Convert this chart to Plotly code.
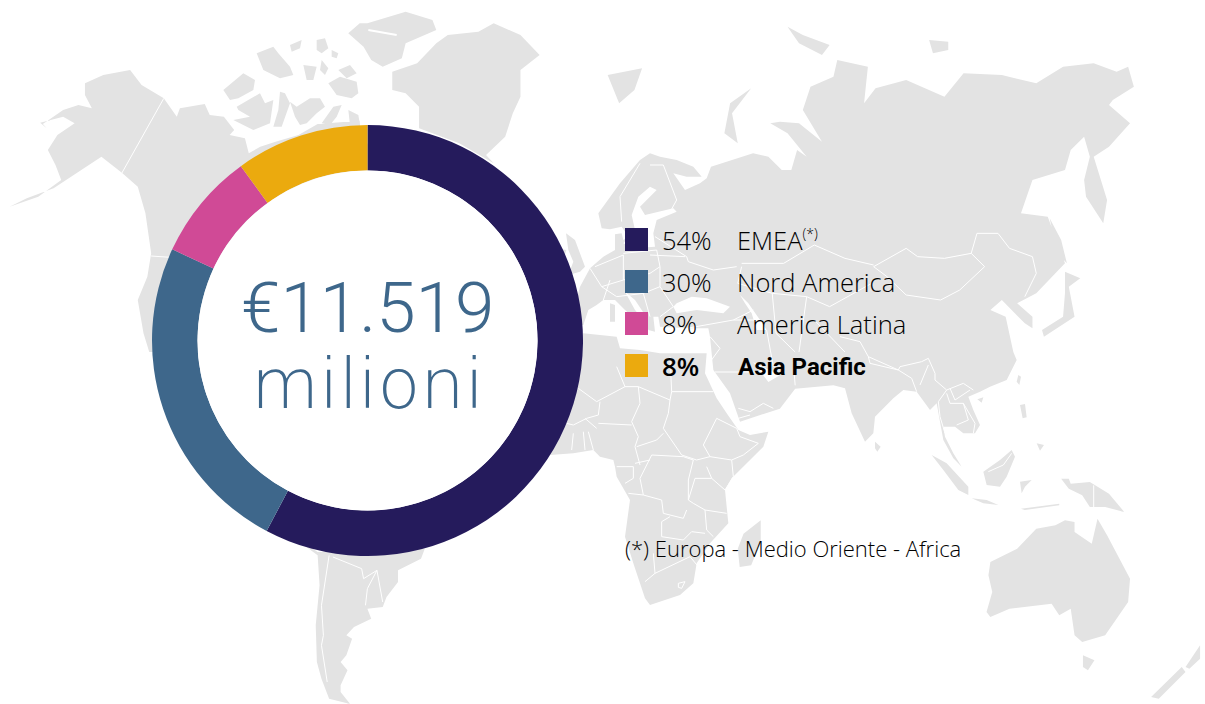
import plotly.graph_objects as go

# ---- data ----
regions = ["EMEA", "Nord America", "America Latina", "Asia Pacific"]
drawn_share = [57.75, 24.2, 8.05, 10.0]   # arc sizes as drawn in the picture
label_pct = ["54%", "30%", "8%", "8%"]
colors = ["#251B5C", "#3E678B", "#D04A96", "#EBAA0E"]
legend_y = [239.5, 281.5, 323.5, 365.5]
legend_labels = ['EMEA<sup><span style="font-size:14px">(*)</span></sup>', "Nord America", "America Latina", "Asia Pacific"]
legend_pct = ["54%", "30%", "8%", "8%"]

W, H = 1205, 704
GREY = "#E3E3E3"

# ---- background map outlines (panel coords) ----
def TL(p): return [(x / 2.613, y / 3) for x, y in p]
def TR(p): return [(600 + x / 2.613, y / 3) for x, y in p]
def BL(p): return [(x / 2.613, 352 + y / 3) for x, y in p]
def BR(p): return [(600 + x / 2.613, 352 + y / 3) for x, y in p]
def EU(p): return [(560 + x / 3, 140 + y / 3) for x, y in p]
def AF(p): return [(550 + x / 3, 350 + y / 3) for x, y in p]
def SE(p): return [(840 + x / 3, 330 + y / 3) for x, y in p]
def AR(p): return [(210 + x / 3, 10 + y / 3) for x, y in p]

north_america = TL([(105,368),(122,385),(112,372),(165,330),(205,315),(240,325),(222,285),(222,250),(270,225),(340,210),(370,255),(428,295),(462,350),(470,325),(535,312),(548,345),(585,350),(612,390),(600,405),(640,415),(650,460),(680,440),(720,425),(780,405),(830,372),(940,362),(942,400),(1000,500),(1000,800),(700,1056),(390,1056),(375,1000),(360,900),(385,830),(395,760),(380,640),(360,560),(320,520),(265,470),(200,520),(140,565),(70,595),(25,620),(100,590),(160,540),(145,495),(125,450),(150,405),(195,370),(165,350)])
greenland = TL([(1025,215),(1090,190),(1140,130),(1170,105),(1250,95),(1290,70),(1360,105),(1410,165),(1360,210),(1360,290),(1340,340),(1320,410),(1270,465),(1290,490),(1200,430),(1095,385),(1095,320),(1060,280),(1025,270)])
ellesmere = TL([(960,70),(1060,35),(1130,60),(1140,90),(1060,130),(1050,175),(1000,200),(970,180),(950,140),(910,100),(940,70)])
arctic = [
    AR([(40,240),(100,190),(135,210),(130,240),(85,265),(60,270)]),
    AR([(80,290),(150,250),(165,280),(190,270),(180,340),(130,360),(70,330),(120,320),(85,300)]),
    AR([(210,245),(225,250),(240,280),(215,350),(190,350),(205,300)]),
    AR([(240,275),(260,290),(300,265),(330,265),(345,290),(320,310),(290,340),(270,345),(255,320)]),
    AR([(335,340),(370,290),(395,285),(380,320),(360,345)]),
    AR([(415,300),(445,315),(450,345),(420,345)]),
    AR([(355,220),(390,200),(440,215),(445,250),(425,265),(380,255)]),
    AR([(140,130),(190,110),(205,130),(240,170),(250,195),(210,205),(160,180)]),
    AR([(240,105),(275,90),(270,115),(245,125)]),
    AR([(320,90),(345,85),(355,115),(335,130),(320,120)]),
    AR([(365,120),(385,130),(380,145),(365,140)]),
    AR([(280,165),(320,170),(310,210),(290,210)]),
    AR([(335,150),(355,175),(345,195),(330,180)]),
    AR([(385,180),(420,165),(440,190),(410,205)]),
]
south_america = BL([(700,500),(830,600),(1110,590),(1100,620),(1040,655),(1040,690),(1010,735),(1000,765),(960,770),(970,800),(925,825),(905,850),(920,860),(905,910),(890,930),(908,955),(890,1000),(890,1020),(915,1056),(860,1040),(840,980),(828,930),(825,820),(835,700),(830,610)])
eurasia = (EU([(60,440),(90,385),(130,350),(165,330),(165,283),(185,280),(190,300),(205,290),(185,260),(150,268),(125,265),(115,220),(180,130),(240,60),(270,40),(300,50),(350,60),(400,80),(425,110),(380,110),(340,100),(375,150),(420,130),(440,115)])
    + TR([(290,500),(400,460),(440,470),(475,510),(500,510),(515,450),(540,470),(490,400),(445,370),(470,365),(520,370),(580,425),(530,330),(550,260),(610,230),(620,180),(700,200),(690,310),(720,265),(800,240),(900,290),(950,220),(1050,225),(1140,250),(1210,200),(1290,190),(1350,215),(1380,200),(1395,260),(1340,300),(1330,315),(1385,370),(1330,440),(1290,470),(1325,600),(1315,670),(1270,590),(1265,540),(1280,470),(1265,410),(1230,450),(1215,510),(1130,540),(1100,640),(1170,650),(1200,740),(1215,790),(1140,880),(1090,910),(1130,950),(1130,985),(1110,970),(1050,900),(1020,930),(1060,950),(1080,1056)])
    + SE([(530,90),(500,150),(450,170),(420,185),(385,200),(400,240),(420,285),(405,310),(370,310),(345,290),(310,290),(315,320),(340,370),(365,410),(340,385),(310,330),(300,270),(290,220),(270,240),(230,185),(190,180),(160,205),(105,260),(100,310),(75,335),(35,250),(15,175)])
    + BR([(610,100),(510,110),(470,170)])
    + AF([(570,215),(540,130),(490,60)])
    + EU([(450,590),(445,565),(380,565),(300,560),(295,530),(280,530),(285,575),(265,570),(255,525),(225,480),(195,455),(225,510),(270,560),(250,560),(235,545),(195,510),(165,480),(130,480),(110,495),(85,510),(70,555),(30,555)]))
africa = ([(575,345)] + EU([(70,580),(170,590),(180,625),(240,630),(300,640),(360,640),(440,640)])
    + AF([(465,70),(500,145),(530,190),(565,240),(600,255),(655,245),(640,290),(600,330),(545,385),(525,420),(530,480),(535,520),(480,580),(440,640),(430,700),(390,735),(300,765),(285,745),(250,640),(225,560),(240,450),(200,380),(195,350),(190,330),(150,320),(130,300),(70,310),(0,315)])
    + [(530,400)])
uk = EU([(18,280),(45,300),(75,380),(60,395),(25,405),(40,365),(25,330)])
ireland = TL([(1455,745),(1480,750),(1470,785),(1450,780)])
sicily = EU([(215,565),(240,565),(235,580)])
sardinia = EU([(150,490),(165,495),(165,545),(150,545)])
novaya = TR([(395,265),(340,310),(325,400),(360,430),(345,340)])
svalbard = TR([(20,225),(110,205),(90,270),(50,310)])
franz_josef = TR([(490,80),(530,105),(600,135),(580,165),(520,130)])
severnaya = TR([(860,120),(910,125),(910,150),(870,160)])
sakhalin = TR([(1175,655),(1205,720),(1220,790),(1195,760)])
japan = TR([(1215,815),(1255,835),(1225,860),(1240,950),(1160,1010),(1155,990),(1210,950),(1215,880)])
australia = BR([(1020,630),(1090,590),(1140,530),(1190,520),(1215,505),(1240,510),(1240,540),(1285,575),(1300,500),(1325,550),(1385,680),(1380,750),(1320,850),(1260,870),(1240,850),(1230,770),(1200,790),(1180,755),(1070,770),(1020,795),(1010,780),(1025,720),(1015,670)])
tasmania = BR([(1262,910),(1292,925),(1275,955),(1262,945)])
nz_south = BR([(1440,1035),(1520,945),(1530,960),(1460,1040)])
nz_north = BR([(1530,945),(1568,880),(1568,920),(1540,950)])
new_guinea = BR([(1205,380),(1225,380),(1230,395),(1280,390),(1330,425),(1370,480),(1320,465),(1280,465),(1260,430),(1225,410)])
borneo = SE([(430,425),(480,390),(515,360),(525,380),(500,440),(480,470),(440,465)])
sumatra = SE([(275,375),(320,400),(385,470),(385,495),(355,480),(310,420)])
java = SE([(395,505),(440,510),(475,525),(430,520)])
sunda = BR([(1100,470),(1200,455),(1200,460),(1110,474)])
sulawesi = SE([(540,455),(575,450),(555,470),(545,490)])
luzon = SE([(540,225),(555,222),(560,262),(548,265)])
mindanao = SE([(590,340),(612,345),(600,362)])
sri_lanka = SE([(105,335),(122,350),(112,365),(105,355)])
madagascar = BR([(420,505),(420,570),(395,640),(365,645),(360,590),(375,545)])
taiwan = SE([(535,135),(543,140),(538,165),(530,155)])
hainan = SE([(412,208),(430,202),(425,218)])
land = [north_america, greenland, ellesmere] + arctic + [
        south_america, eurasia, africa, uk, ireland, sicily, sardinia, novaya, svalbard, franz_josef, severnaya, sakhalin, japan,
        australia, tasmania, nz_south, nz_north, new_guinea, borneo, sumatra, java, sunda, sulawesi, luzon, mindanao,
        sri_lanka, madagascar, taiwan, hainan]

baltic = EU([(270,140),(290,150),(240,200),(255,225),(340,205),(350,215),(290,240),(280,280),(285,320),(220,325),(190,310),(225,270),(215,225),(235,170)])
black_sea = EU([(350,490),(395,470),(440,475),(510,500),(490,520),(410,510),(350,520),(340,500)])
caspian = EU([(540,465),(565,490),(600,540),(620,570),(590,570),(575,520),(555,490)])
persian_gulf = BR([(400,30),(470,70),(440,90),(420,60)])
seas = [baltic, black_sea, caspian, persian_gulf]

channels = [AR([(475,60),(560,75)]), AR([(430,130),(470,150)])]

borders = [
    TL([(428,295),(318,520)]), TL([(395,768),(445,772)]),
    EU([(240,70),(180,170),(185,245)]), EU([(270,75),(310,75),(350,180),(325,225)]),
    EU([(105,380),(190,345),(190,420),(125,440),(90,385)]), EU([(190,340),(290,330),(300,380),(270,400),(190,420)]),
    EU([(285,290),(380,350),(385,365),(460,390),(530,380)]), EU([(270,345),(375,350)]), EU([(125,440),(170,470),(250,460),(300,440),(300,380)]),
    EU([(250,460),(270,530)]), EU([(300,440),(340,500),(300,530)]), EU([(130,480),(150,420)]),
    EU([(450,590),(480,625),(440,680)]), EU([(380,565),(520,540),(600,540)]), EU([(620,570),(640,680)]), EU([(520,540),(580,510)]),
    TR([(715,800),(800,745),(830,770),(900,775),(970,760),(985,700),(1040,700),(1070,745),(1130,770),(1140,820),(1110,890)]),
    TR([(970,760),(1005,800),(940,870),(890,900),(800,885),(750,830),(715,800)]),
    TR([(370,790),(480,790),(560,735),(640,775),(715,795)]),
    TR([(370,800),(360,850),(450,880),(540,890),(600,920),(710,850)]),
    TR([(450,880),(460,1000),(510,1056)]), TR([(540,890),(520,1056)]), TR([(560,960),(640,1056)]),
    AF([(85,115),(140,155),(225,110),(265,110),(360,150),(365,125),(490,125)]), AF([(365,125),(360,20)]), AF([(225,110),(200,50)]),
    AF([(265,110),(270,160),(245,215),(265,260),(255,290),(270,345)]),
    AF([(360,150),(355,190),(340,235),(395,315),(440,330),(480,320),(545,330),(550,380),(525,420)]),
    AF([(340,250),(320,270),(260,290)]), AF([(500,205),(460,285),(480,320)]),
    AF([(500,205),(560,235),(570,260),(625,280),(580,315),(545,330)]),
    AF([(150,155),(145,195),(110,205),(70,225),(50,220)]), AF([(145,220),(245,225)]),
    AF([(70,250),(65,300)]), AF([(100,245),(105,300)]), AF([(115,245),(130,300)]), AF([(105,205),(140,235)]),
    AF([(305,315),(400,320),(430,330),(415,390),(415,450),(430,460),(465,480),(530,490)]),
    AF([(305,315),(270,385),(280,435),(335,450),(340,490),(400,505),(410,480)]), AF([(235,430),(280,435)]),
    AF([(335,515),(335,560),(400,570),(425,545),(465,550)]), AF([(360,500),(335,515)]),
    AF([(435,385),(485,385),(525,420)]), AF([(415,450),(435,385)]), AF([(470,350),(485,385)]),
    AF([(310,610),(315,670),(420,620),(445,650)]), AF([(285,695),(315,670)]),
    AF([(385,700),(405,695),(395,715),(385,712),(385,700)]),
    AF([(200,350),(250,350),(250,385),(225,400)]), AF([(255,340),(300,330)]), AF([(465,480),(470,540),(490,560)]),
    AF([(565,175),(600,185),(640,160),(670,175)]), AF([(565,205),(600,195)]),
    BR([(300,60),(430,60)]), BR([(505,30),(510,100)]),
    SE([(0,20),(60,35),(85,80),(175,120),(180,110),(245,95),(265,85),(285,130),(285,150),(320,180),(370,160),(400,180)]),
    SE([(85,80),(90,100),(175,120),(215,145),(230,185)]), SE([(265,105),(240,165)]),
    SE([(320,180),(295,215),(300,260),(315,310)]), SE([(320,190),(330,220),(370,220),(405,280),(400,310)]),
    SE([(350,285),(385,270),(370,220)]), SE([(330,175),(345,210),(390,180)]), SE([(445,425),(490,405),(515,370)]),
    BR([(1290,400),(1290,470)]), BL([(860,610),(850,680),(840,760),(845,850),(840,880),(855,990)]),
    BL([(870,615),(945,650),(950,680),(985,655),(960,710),(955,760)]), BL([(985,655),(1000,750)]),
]

def xs(polys):
    out = []
    for p in polys:
        out += [a for a, _ in p] + [None]
    return out

def ys(polys):
    out = []
    for p in polys:
        out += [b for _, b in p] + [None]
    return out

fig = go.Figure()
fig.add_trace(go.Scatter(x=xs(land), y=ys(land), mode="lines", fill="toself", fillcolor=GREY,
                         line=dict(width=0, color=GREY), hoverinfo="skip", showlegend=False))
fig.add_trace(go.Scatter(x=xs(seas), y=ys(seas), mode="lines", fill="toself", fillcolor="white",
                         line=dict(width=0, color="white"), hoverinfo="skip", showlegend=False))
fig.add_trace(go.Scatter(x=xs(channels), y=ys(channels), mode="lines",
                         line=dict(width=2, color="white"), hoverinfo="skip", showlegend=False))
fig.add_trace(go.Scatter(x=xs(borders), y=ys(borders), mode="lines",
                         line=dict(width=1, color="white"), hoverinfo="skip", showlegend=False))
fig.add_trace(go.Scatter(x=[636.5] * 4, y=legend_y, mode="markers",
                         marker=dict(symbol="square", size=23, color=colors, line=dict(width=0)),
                         hoverinfo="skip", showlegend=False))
fig.add_trace(go.Pie(values=drawn_share, labels=regions, sort=False, direction="clockwise", rotation=0,
                     hole=0.789, marker=dict(colors=colors, line=dict(width=0)), textinfo="none",
                     hoverinfo="skip", showlegend=False,
                     domain=dict(x=[152 / W, 583 / W], y=[(H - 556) / H, (H - 125) / H])))

TXT = "#000000"
BLUE = "#3E678B"
ann = [
    dict(x=367.5, y=307, text="€11.519", font=dict(family="Roboto", size=71, color=BLUE, weight=300)),
    dict(x=367.5, y=384, text="milioni", font=dict(family="DejaVu Sans", size=70, color=BLUE, weight=200)),
    dict(x=623, y=548, xanchor="left", text="(*) Europa - Medio Oriente - Africa",
         font=dict(family="Open Sans", size=22, color=TXT, weight=300)),
]
for i, (y, p, l) in enumerate(zip(legend_y, legend_pct, legend_labels)):
    if i == len(legend_pct) - 1:
        ann.append(dict(x=660, y=y, xanchor="left", text=p, font=dict(family="Open Sans", size=26, color=TXT, weight=600)))
        ann.append(dict(x=736, y=y + 1, xanchor="left", text=l, font=dict(family="Roboto", size=24, color=TXT, weight=700)))
    else:
        fnt = dict(family="Open Sans", size=25.5, color=TXT, weight=300)
        ann.append(dict(x=659.5, y=y, xanchor="left", text=p, font=fnt))
        ann.append(dict(x=735, y=y, xanchor="left", text=l, font=fnt))
for a in ann:
    a.update(xref="x", yref="y", showarrow=False)
    a.setdefault("xanchor", "center")
    a["yanchor"] = "middle"

fig.update_layout(
    width=W, height=H, margin=dict(l=0, r=0, t=0, b=0),
    paper_bgcolor="white", plot_bgcolor="white", showlegend=False,
    xaxis=dict(range=[0, W], visible=False, fixedrange=True),
    yaxis=dict(range=[H, 0], visible=False, fixedrange=True),
    annotations=ann,
    shapes=[dict(type="circle", xref="x", yref="y", x0=197.5, x1=537.5, y0=170.5, y1=510.5,
                 fillcolor="white", line=dict(width=0), layer="above")],
)
fig.write_html("out.html", config=dict(displayModeBar=False),
               post_script="document.body.style.margin='0';document.body.style.overflow='hidden';")
